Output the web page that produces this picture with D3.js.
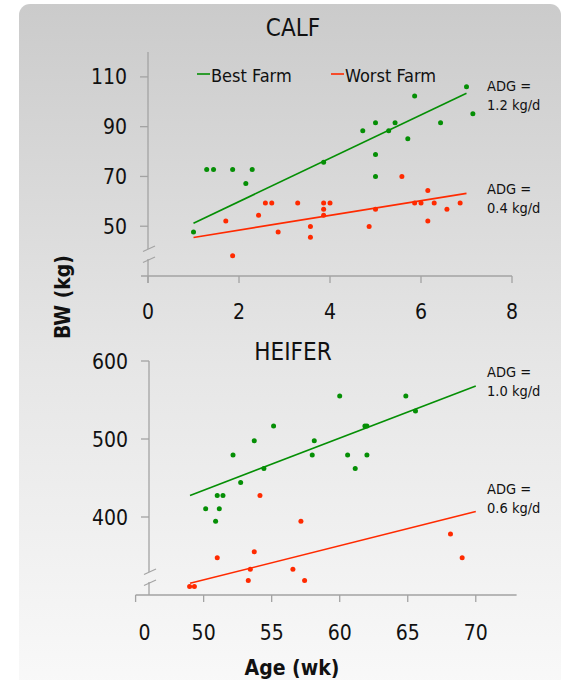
<!DOCTYPE html>
<html>
<head>
<meta charset="utf-8">
<script src="https://cdn.jsdelivr.net/npm/d3@7"></script>
<style>
  html, body { margin: 0; padding: 0; background: #fff; }
  svg text { font-family: "DejaVu Sans Condensed", "DejaVu Sans", sans-serif; font-stretch: condensed; fill: #111; }
</style>
</head>
<body>
<div id="vis"></div>
<script>
// CALF panel data (age in weeks, body weight kg)
var calfBestX = [1.0, 1.29, 1.44, 1.86, 2.15, 2.29, 3.86, 4.72, 5.0, 5.0, 5.0, 5.29, 5.43, 5.71, 5.86, 6.43, 7.0, 7.14];
var calfBestY = [47.7, 72.8, 72.8, 72.8, 67.2, 72.8, 75.7, 88.4, 91.6, 78.8, 70, 88.4, 91.6, 85.1, 102.3, 91.6, 106, 95.2];
var calfWorstX = [1.71, 1.86, 2.43, 2.58, 2.72, 2.86, 3.29, 3.57, 3.57, 3.86, 3.86, 3.86, 4.0, 4.86, 5.0, 5.58, 5.86, 6.0, 6.15, 6.15, 6.29, 6.57, 6.86];
var calfWorstY = [52.1, 38.1, 54.4, 59.3, 59.3, 47.7, 59.3, 49.9, 45.6, 59.3, 56.8, 54.4, 59.3, 49.9, 56.8, 70, 59.3, 59.3, 64.4, 52.1, 59.3, 56.8, 59.3];
var calfBestFit = [[1, 51.2], [7, 103.4]];
var calfWorstFit = [[1, 45.5], [7, 63.2]];
var calfXTicks = [0, 2, 4, 6, 8];
var calfYTicks = [50, 70, 90, 110];

// HEIFER panel data
var heiferBestX = [50.15, 50.88, 51.0, 51.15, 51.42, 52.16, 52.72, 53.72, 54.43, 55.14, 57.98, 58.13, 60.0, 60.58, 61.14, 61.85, 62.0, 62.0, 64.86, 65.57];
var heiferBestY = [410.6, 394.4, 427.6, 410.6, 427.6, 479.6, 444.2, 497.8, 462.1, 516.6, 479.6, 497.8, 555, 479.6, 462.1, 516.6, 516.6, 479.6, 555, 535.8];
var heiferWorstX = [48.97, 49.32, 51.0, 53.28, 53.43, 53.72, 54.14, 56.56, 57.15, 57.42, 68.14, 69.0];
var heiferWorstY = [311, 311, 347.6, 318.6, 333.1, 355.3, 427.6, 333.1, 394.4, 318.6, 378.3, 347.6];
var heiferBestFit = [[49, 427.6], [70, 568]];
var heiferWorstFit = [[49, 315], [70, 407]];
var heiferXTicks = [45, 50, 55, 60, 65, 70];
var heiferXLabels = ['0', '50', '55', '60', '65', '70'];
var heiferYTicks = [400, 500, 600];

var adgCalf = ['1.2 kg/d', '0.4 kg/d'];
var adgHeifer = ['1.0 kg/d', '0.6 kg/d'];

var width = 564;
var height = 680;
var green = '#058f05';
var red = '#ff2a00';
var axisColor = '#a3a3a3';

var svg = d3.select('#vis')
  .append('svg')
  .attr('width', width)
  .attr('height', height);

var defs = svg.append('defs');
var grad = defs.append('linearGradient')
  .attr('id', 'bg')
  .attr('x1', 0).attr('y1', 0)
  .attr('x2', 0).attr('y2', 1);
grad.append('stop').attr('offset', '0%').attr('stop-color', '#cbcbcb');
grad.append('stop').attr('offset', '50%').attr('stop-color', '#e6e6e6');
grad.append('stop').attr('offset', '100%').attr('stop-color', '#fbfbfb');

svg.append('rect')
  .attr('x', 19).attr('y', 4)
  .attr('width', 542).attr('height', 720)
  .attr('rx', 11)
  .attr('fill', 'url(#bg)');

function zip(xs, ys) {
  return xs.map(function (x, i) { return [x, ys[i]]; });
}

function drawPanel(opts) {
  var x = d3.scaleLinear().domain(opts.xDomain).range(opts.xRange);
  var y = d3.scaleLinear().domain(opts.yDomain).range(opts.yRange);
  var g = svg.append('g');
  var axisY0 = opts.yRange[0];
  var ax = opts.yAxisX;

  // y axis with break
  g.append('line')
    .attr('x1', ax).attr('x2', ax)
    .attr('y1', opts.yRange[1]).attr('y2', opts.breakY - 5)
    .attr('stroke', axisColor).attr('stroke-width', 1.3);
  g.append('line')
    .attr('x1', ax).attr('x2', ax)
    .attr('y1', opts.breakY + 5).attr('y2', axisY0 + opts.yAxisExtra)
    .attr('stroke', axisColor).attr('stroke-width', 1.3);
  [-5, 6].forEach(function (o) {
    g.append('line')
      .attr('x1', ax - 5).attr('y1', opts.breakY + o + 2.5)
      .attr('x2', ax + 7).attr('y2', opts.breakY + o - 3)
      .attr('stroke', axisColor).attr('stroke-width', 1.1);
  });

  g.selectAll('.ytick')
    .data(opts.yTicks)
    .enter().append('line')
    .attr('x1', ax - 8).attr('x2', ax)
    .attr('y1', function (d) { return y(d); })
    .attr('y2', function (d) { return y(d); })
    .attr('stroke', axisColor).attr('stroke-width', 1.3);

  g.selectAll('.ylab')
    .data(opts.yTicks)
    .enter().append('text')
    .attr('x', ax - 21)
    .attr('y', function (d) { return y(d); })
    .attr('dy', '0.36em')
    .attr('text-anchor', 'end')
    .style('font-size', '21px')
    .text(function (d) { return d; });

  // x axis
  g.append('line')
    .attr('x1', opts.xAxisStart).attr('x2', opts.xRange[1] + opts.xAxisEndExtra)
    .attr('y1', axisY0).attr('y2', axisY0)
    .attr('stroke', axisColor).attr('stroke-width', 1.3);

  g.selectAll('.xtick')
    .data(opts.xTicks)
    .enter().append('line')
    .attr('x1', function (d) { return x(d); })
    .attr('x2', function (d) { return x(d); })
    .attr('y1', axisY0).attr('y2', axisY0 + 7)
    .attr('stroke', axisColor).attr('stroke-width', 1.3);

  g.selectAll('.xlab')
    .data(opts.xTicks)
    .enter().append('text')
    .attr('x', function (d, i) { return x(d) + (opts.xLabelShift[i] || 0); })
    .attr('y', axisY0 + opts.xLabelOffset)
    .attr('text-anchor', 'middle')
    .style('font-size', '21px')
    .text(function (d, i) { return opts.xLabels ? opts.xLabels[i] : d; });

  var line = d3.line()
    .x(function (d) { return x(d[0]); })
    .y(function (d) { return y(d[1]); });

  g.append('path').datum(opts.bestFit)
    .attr('d', line).attr('stroke', green).attr('stroke-width', 1.6).attr('fill', 'none');
  g.append('path').datum(opts.worstFit)
    .attr('d', line).attr('stroke', red).attr('stroke-width', 1.6).attr('fill', 'none');

  g.selectAll('.best')
    .data(opts.best)
    .enter().append('circle')
    .attr('cx', function (d) { return x(d[0]); })
    .attr('cy', function (d) { return y(d[1]); })
    .attr('r', 2.5)
    .attr('fill', green);

  g.selectAll('.worst')
    .data(opts.worst)
    .enter().append('circle')
    .attr('cx', function (d) { return x(d[0]); })
    .attr('cy', function (d) { return y(d[1]); })
    .attr('r', 2.5)
    .attr('fill', red);

  // title
  g.append('text')
    .attr('x', opts.titleX).attr('y', opts.titleY)
    .attr('text-anchor', 'middle')
    .style('font-size', '24px')
    .text(opts.title);

  // ADG notes
  opts.adg.forEach(function (a, i) {
    var t = g.append('text')
      .attr('x', 487)
      .attr('y', opts.adgY[i])
      .style('font-size', '14.5px');
    t.append('tspan').attr('x', 487).text('ADG =');
    t.append('tspan').attr('x', 487).attr('dy', 18.5).text(a);
  });
  return g;
}

drawPanel({
  xDomain: [0, 8], xRange: [148, 512],
  yDomain: [30, 120], yRange: [276, 52],
  yAxisX: 148, breakY: 254, yAxisExtra: 7,
  xAxisStart: 141, xAxisEndExtra: 0,
  yTicks: calfYTicks, xTicks: calfXTicks, xLabelShift: [],
  xLabelOffset: 43,
  best: zip(calfBestX, calfBestY), worst: zip(calfWorstX, calfWorstY),
  bestFit: calfBestFit, worstFit: calfWorstFit,
  title: 'CALF', titleX: 293, titleY: 36,
  adg: adgCalf, adgY: [91, 194]
});

drawPanel({
  xDomain: [45, 73], xRange: [135.6, 516.6],
  yDomain: [300, 600], yRange: [595, 361],
  yAxisX: 149, breakY: 577, yAxisExtra: 0,
  xAxisStart: 135.6, xAxisEndExtra: 0,
  yTicks: heiferYTicks, xTicks: heiferXTicks, xLabelShift: [9],
  xLabels: heiferXLabels,
  xLabelOffset: 45,
  best: zip(heiferBestX, heiferBestY), worst: zip(heiferWorstX, heiferWorstY),
  bestFit: heiferBestFit, worstFit: heiferWorstFit,
  title: 'HEIFER', titleX: 293, titleY: 360,
  adg: adgHeifer, adgY: [377, 494]
});

// legend
var legend = [['Best Farm', green, 197], ['Worst Farm', red, 331]];
legend.forEach(function (l) {
  svg.append('line')
    .attr('x1', l[2]).attr('x2', l[2] + 13)
    .attr('y1', 74).attr('y2', 74)
    .attr('stroke', l[1]).attr('stroke-width', 1.6);
  svg.append('text')
    .attr('x', l[2] + 14).attr('y', 81.5)
    .style('font-size', '18px')
    .text(l[0]);
});

// axis titles
svg.append('text')
  .attr('transform', 'translate(70,297) rotate(-90)')
  .attr('text-anchor', 'middle')
  .style('font-size', '21px')
  .style('font-weight', 'bold')
  .text('BW (kg)');

svg.append('text')
  .attr('x', 292).attr('y', 675)
  .attr('text-anchor', 'middle')
  .style('font-size', '21px')
  .style('font-weight', 'bold')
  .text('Age (wk)');
</script>
</body>
</html>
